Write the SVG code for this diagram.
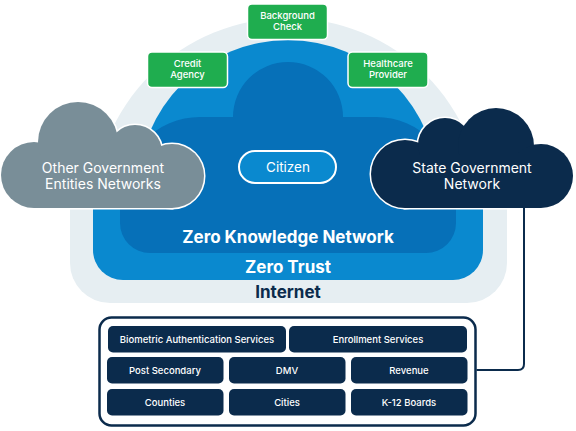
<svg xmlns="http://www.w3.org/2000/svg" width="576" height="431" viewBox="0 0 576 431">
<style>
  text { font-family: Inter, "Open Sans", "Liberation Sans", sans-serif; fill: #ffffff; text-anchor: middle; }
  .gt { font-size: 9.5px; font-weight: 500; }
  .cl { font-size: 14px; }
  .big { font-size: 17px; font-weight: 700; }
  .svt { font-size: 9.5px; font-weight: 500; }
  .svbox { fill: #0b2b4c; }
  .green { fill: #1fad4f; stroke: #ffffff; stroke-width: 1.5; }
  .outline { stroke: #ffffff; stroke-width: 3; }
  .conn { fill: none; stroke: #0b2b4c; stroke-width: 2; }
</style>
<defs>
  <g id="greyShape">
    <circle cx="34" cy="175" r="33"/>
    <circle cx="78" cy="142" r="40"/>
    <circle cx="135" cy="152" r="27"/>
    <circle cx="172" cy="176" r="32"/>
    <rect x="34" y="155" width="138" height="53"/>
  </g>
  <g id="navyShape">
    <circle cx="405" cy="174" r="34"/>
    <circle cx="445" cy="145" r="27"/>
    <circle cx="496" cy="146" r="38"/>
    <circle cx="541" cy="176" r="32"/>
    <rect x="405" y="155" width="136" height="53"/>
  </g>
</defs>
<rect x="0" y="0" width="576" height="431" fill="#ffffff"/>

<g id="internet" fill="#e6eef2">
  <path d="M93,213 A195,195 0 0 1 483,213 Z"/>
  <rect x="70" y="165" width="437" height="138" rx="40"/>
  <text x="288" y="298" class="big" style="fill:#0b2b4c">Internet</text>
</g>

<g id="zero-trust" fill="#0a89cf">
  <path d="M138,190 A150,150 0 0 1 438,190 Z"/>
  <rect x="93" y="175" width="390" height="105" rx="30"/>
  <text x="288" y="273" class="big">Zero Trust</text>
</g>

<g id="zero-knowledge">
  <path fill="#0670b8" d="M150,253 A30,30 0 0 1 120,223 L120,200 A80,83 0 0 1 200,117 L233,117 A55,55 0 0 1 343,117 L376,117 A80,83 0 0 1 456,200 L456,223 A30,30 0 0 1 426,253 Z"/>
  <text x="288" y="243" class="big">Zero Knowledge Network</text>
</g>

<g id="citizen">
  <rect x="239" y="151" width="97" height="32" rx="16" fill="#0a89cf" stroke="#ffffff" stroke-width="2"/>
  <text x="288" y="172" style="font-size:13.5px">Citizen</text>
</g>

<g id="background-check">
  <rect x="247.5" y="4" width="80" height="35.5" rx="4.5" class="green"/>
  <text x="287.5" y="19" class="gt">Background</text>
  <text x="287.5" y="30" class="gt">Check</text>
</g>

<g id="credit-agency">
  <rect x="147.5" y="52" width="80" height="35.5" rx="4.5" class="green"/>
  <text x="187.5" y="67" class="gt">Credit</text>
  <text x="187.5" y="78" class="gt">Agency</text>
</g>

<g id="healthcare-provider">
  <rect x="348" y="52" width="80" height="35.5" rx="4.5" class="green"/>
  <text x="388" y="67" class="gt">Healthcare</text>
  <text x="388" y="78" class="gt">Provider</text>
</g>

<g id="other-government">
  <use href="#greyShape" fill="#798e98" class="outline"/>
  <use href="#greyShape" fill="#798e98"/>
  <text x="103" y="173" class="cl">Other Government</text>
  <text x="103" y="189" class="cl">Entities Networks</text>
</g>

<g id="state-government">
  <use href="#navyShape" fill="#0b2b4c" class="outline"/>
  <use href="#navyShape" fill="#0b2b4c"/>
  <text x="472" y="173" class="cl">State Government</text>
  <text x="472" y="189" class="cl">Network</text>
</g>

<g id="connectors">
  <path class="conn" d="M524,208 V364 Q524,370 518,370 H476.5"/>
</g>

<g id="services">
  <rect x="99.5" y="317.5" width="376" height="108" rx="12" fill="#ffffff" stroke="#0b2b4c" stroke-width="2.5"/>
  <g id="biometric">
    <rect x="108" y="326" width="178" height="26.5" rx="5" class="svbox"/>
    <text x="197" y="342.5" class="svt">Biometric Authentication Services</text>
  </g>
  <g id="enrollment">
    <rect x="289" y="326" width="178" height="26.5" rx="5" class="svbox"/>
    <text x="378" y="342.5" class="svt">Enrollment Services</text>
  </g>
  <g id="post-secondary">
    <rect x="107" y="357" width="116.5" height="26.5" rx="5" class="svbox"/>
    <text x="165" y="373.5" class="svt">Post Secondary</text>
  </g>
  <g id="dmv">
    <rect x="229" y="357" width="116.5" height="26.5" rx="5" class="svbox"/>
    <text x="287" y="373.5" class="svt">DMV</text>
  </g>
  <g id="revenue">
    <rect x="351" y="357" width="116.5" height="26.5" rx="5" class="svbox"/>
    <text x="409" y="373.5" class="svt">Revenue</text>
  </g>
  <g id="counties">
    <rect x="107" y="389" width="116.5" height="26.5" rx="5" class="svbox"/>
    <text x="165" y="405.5" class="svt">Counties</text>
  </g>
  <g id="cities">
    <rect x="229" y="389" width="116.5" height="26.5" rx="5" class="svbox"/>
    <text x="287" y="405.5" class="svt">Cities</text>
  </g>
  <g id="k12-boards">
    <rect x="351" y="389" width="116.5" height="26.5" rx="5" class="svbox"/>
    <text x="409" y="405.5" class="svt">K-12 Boards</text>
  </g>
</g>
</svg>
